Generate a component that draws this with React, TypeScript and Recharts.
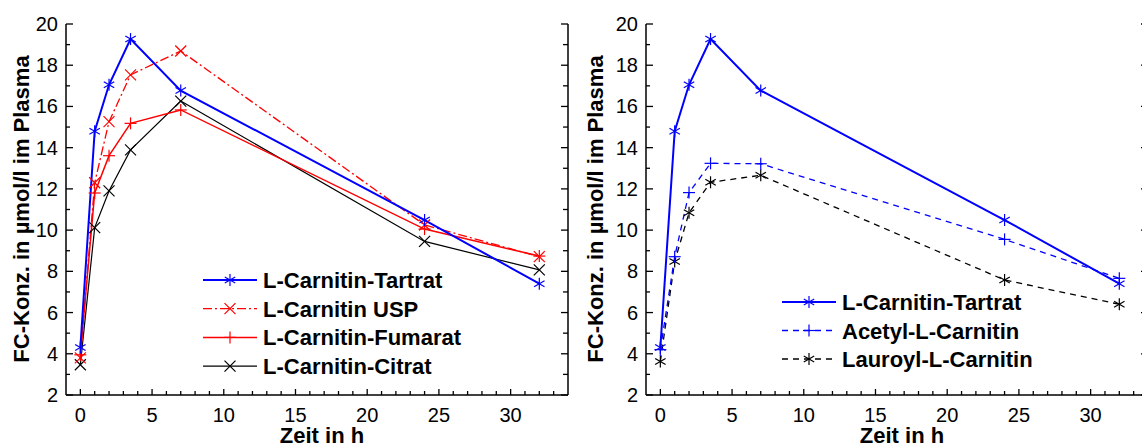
import React from 'react';
import { LineChart, Line, XAxis, YAxis, Legend } from 'recharts';

// sampling times (h)
const times = [0, 1, 2, 3.5, 7, 24, 32];

// FC concentration in µmol/l
const tartrat = [4.3, 14.8, 17.05, 19.27, 16.77, 10.49, 7.4];
const usp = [3.8, 12.3, 15.26, 17.53, 18.69, 10.25, 8.71];
const fumarat = [3.95, 11.8, 13.61, 15.18, 15.83, 10.05, 8.74];
const citrat = [3.47, 10.12, 11.9, 13.89, 16.26, 9.45, 8.07];
const acetyl = [4.2, 8.71, 11.82, 13.24, 13.22, 9.55, 7.66];
const lauroyl = [3.63, 8.48, 10.84, 12.32, 12.66, 7.58, 6.4];

const xTicks = [0, 1, 2, 3, 4, 5, 6, 7, 8, 9, 10, 11, 12, 13, 14, 15, 16, 17, 18, 19, 20, 21, 22, 23, 24, 25, 26, 27, 28, 29, 30, 31, 32, 33];
const yTicks = [2, 3, 4, 5, 6, 7, 8, 9, 10, 11, 12, 13, 14, 15, 16, 17, 18, 19, 20];

const yTitle = 'FC-Konz. in µmol/l im Plasma';
const xTitle = 'Zeit in h';

const FONT = '"Liberation Sans", Arial, Helvetica, sans-serif';
const BLUE = '#0000ff';
const RED = '#ff0000';
const BLACK = '#000000';

const rows = times.map((t, i) => ({
  t,
  tartrat: tartrat[i],
  usp: usp[i],
  fumarat: fumarat[i],
  citrat: citrat[i],
  acetyl: acetyl[i],
  lauroyl: lauroyl[i],
}));

type Kind = 'star' | 'cross' | 'plus';

const Marker = ({ kind, cx, cy, color }: { kind: Kind; cx: number; cy: number; color: string }) => {
  if (cx == null || cy == null) return null;
  const sw = 1.2;
  if (kind === 'star') {
    const r = 6;
    const dx = r * 0.87;
    const dy = r * 0.5;
    return (
      <g stroke={color} strokeWidth={sw}>
        <line x1={cx} y1={cy - r} x2={cx} y2={cy + r} />
        <line x1={cx - dx} y1={cy - dy} x2={cx + dx} y2={cy + dy} />
        <line x1={cx - dx} y1={cy + dy} x2={cx + dx} y2={cy - dy} />
      </g>
    );
  }
  if (kind === 'cross') {
    const r = 5.5;
    return (
      <g stroke={color} strokeWidth={sw}>
        <line x1={cx - r} y1={cy - r} x2={cx + r} y2={cy + r} />
        <line x1={cx - r} y1={cy + r} x2={cx + r} y2={cy - r} />
      </g>
    );
  }
  const r = 6;
  return (
    <g stroke={color} strokeWidth={sw}>
      <line x1={cx} y1={cy - r} x2={cx} y2={cy + r} />
      <line x1={cx - r} y1={cy} x2={cx + r} y2={cy} />
    </g>
  );
};

const dotOf = (kind: Kind, color: string) => (p: any) => (
  <Marker key={`${kind}-${color}-${p.index}`} kind={kind} cx={p.cx} cy={p.cy} color={color} />
);

const LeftYTick = (props: any) => {
  const { x, y, payload } = props;
  const v = payload.value;
  const major = v % 2 === 0;
  return (
    <g>
      <line x1={x} x2={x + (major ? 7 : 4)} y1={y} y2={y} stroke={BLACK} strokeWidth={1.3} />
      {major && (
        <text x={x - 8} y={y + 7} textAnchor="end" fontSize={20} fontFamily={FONT} fill={BLACK}>
          {v}
        </text>
      )}
    </g>
  );
};

const RightYTick = (props: any) => {
  const { x, y, payload } = props;
  const major = payload.value % 2 === 0;
  return <line x1={x} x2={x - (major ? 7 : 5)} y1={y} y2={y} stroke={BLACK} strokeWidth={1.3} />;
};

const XTick = (props: any) => {
  const { x, y, payload } = props;
  const v = payload.value;
  const major = v % 5 === 0;
  return (
    <g>
      <line x1={x} x2={x} y1={y} y2={y - (major ? 6 : 4)} stroke={BLACK} strokeWidth={1.3} />
      {major && (
        <text x={x} y={y + 27} textAnchor="middle" fontSize={20} fontFamily={FONT} fill={BLACK}>
          {v}
        </text>
      )}
    </g>
  );
};

type Series = { key: string; name: string; color: string; width: number; dash?: string; kind: Kind };

const leftSeries: Series[] = [
  { key: 'tartrat', name: 'L-Carnitin-Tartrat', color: BLUE, width: 2, kind: 'star' },
  { key: 'usp', name: 'L-Carnitin USP', color: RED, width: 1.3, dash: '9 3 2 3', kind: 'cross' },
  { key: 'fumarat', name: 'L-Carnitin-Fumarat', color: RED, width: 1.5, kind: 'plus' },
  { key: 'citrat', name: 'L-Carnitin-Citrat', color: BLACK, width: 1.2, kind: 'cross' },
];

const rightSeries: Series[] = [
  { key: 'tartrat', name: 'L-Carnitin-Tartrat', color: BLUE, width: 2, kind: 'star' },
  { key: 'acetyl', name: 'Acetyl-L-Carnitin', color: BLUE, width: 1.3, dash: '6 5', kind: 'plus' },
  { key: 'lauroyl', name: 'Lauroyl-L-Carnitin', color: BLACK, width: 1.3, dash: '6 5', kind: 'star' },
];

const LegendBox = ({ series, step }: { series: Series[]; step: number }) => (
  <svg width={340} height={18 + step * series.length} style={{ display: 'block', overflow: 'visible' }}>
    {series.map((s, i) => {
      const y = 18 + i * step;
      return (
        <g key={s.key}>
          <line x1={4} x2={58} y1={y} y2={y} stroke={s.color} strokeWidth={s.width} strokeDasharray={s.dash} />
          <Marker kind={s.kind} cx={31} cy={y} color={s.color} />
          <text x={64} y={y + 8} fontSize={22} fontWeight="bold" fontFamily={FONT} fill={BLACK}>
            {s.name}
          </text>
        </g>
      );
    })}
  </svg>
);

const Panel = ({ series, legendLeft, legendTop, step }: { series: Series[]; legendLeft: number; legendTop: number; step: number }) => (
  <LineChart width={600} height={448} data={rows} margin={{ top: 24, right: 22, bottom: 23, left: 6 }}>
    <XAxis
      dataKey="t"
      type="number"
      domain={[-1, 34]}
      ticks={xTicks}
      interval={0}
      height={30}
      tickSize={0}
      tickMargin={0}
      tickLine={false}
      tick={XTick}
      axisLine={{ stroke: BLACK, strokeWidth: 1.5 }}
      allowDataOverflow
    />
    <YAxis
      type="number"
      domain={[2, 20]}
      ticks={yTicks}
      interval={0}
      width={60}
      tickSize={0}
      tickMargin={0}
      tickLine={false}
      tick={LeftYTick}
      axisLine={{ stroke: BLACK, strokeWidth: 1.5 }}
      allowDataOverflow
    />
    <YAxis
      yAxisId="r"
      orientation="right"
      type="number"
      domain={[2, 20]}
      ticks={yTicks}
      interval={0}
      width={10}
      tickSize={0}
      tickMargin={0}
      tickLine={false}
      tick={RightYTick}
      axisLine={{ stroke: BLACK, strokeWidth: 1.5 }}
      allowDataOverflow
    />
    <Legend
      layout="vertical"
      align="center"
      verticalAlign="middle"
      wrapperStyle={{ left: legendLeft, top: legendTop, width: 340 }}
      content={() => <LegendBox series={series} step={step} />}
    />
    {[...series].reverse().map((s) => (
      <Line
        key={s.key}
        dataKey={s.key}
        name={s.name}
        type="linear"
        stroke={s.color}
        strokeWidth={s.width}
        strokeDasharray={s.dash}
        dot={dotOf(s.kind, s.color)}
        activeDot={false}
        isAnimationActive={false}
      />
    ))}
  </LineChart>
);

const titleY: React.CSSProperties = {
  position: 'absolute',
  top: 208.5,
  fontFamily: FONT,
  fontWeight: 'bold',
  fontSize: 22,
  lineHeight: '22px',
  whiteSpace: 'nowrap',
  transform: 'translate(-50%, -50%) rotate(-90deg)',
};

const titleX: React.CSSProperties = {
  position: 'absolute',
  top: 425,
  fontFamily: FONT,
  fontWeight: 'bold',
  fontSize: 22,
  lineHeight: '22px',
  whiteSpace: 'nowrap',
  transform: 'translateX(-50%)',
};

export default function App() {
  return (
    <div style={{ position: 'fixed', left: 0, top: 0, width: 1142, height: 448, overflow: 'hidden', background: '#fff' }}>
      <div style={{ position: 'absolute', left: 0, top: 0 }}>
        <Panel series={leftSeries} legendLeft={199} legendTop={262} step={28.7} />
      </div>
      <div style={{ position: 'absolute', left: 580, top: 0 }}>
        <Panel series={rightSeries} legendLeft={198} legendTop={284} step={28.5} />
      </div>
      <div style={{ ...titleY, left: 21.5 }}>{yTitle}</div>
      <div style={{ ...titleY, left: 595.5 }}>{yTitle}</div>
      <div style={{ ...titleX, left: 322 }}>{xTitle}</div>
      <div style={{ ...titleX, left: 902 }}>{xTitle}</div>
    </div>
  );
}
